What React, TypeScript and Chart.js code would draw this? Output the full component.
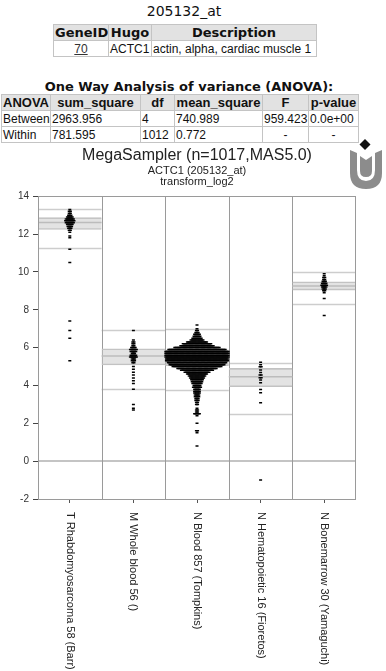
import React, { useEffect, useRef } from "react";
import { Chart, registerables } from "chart.js";

Chart.register(...registerables);

// ---------- header data ----------
const probeId = "205132_at";
const geneId = "70";
const hugo = "ACTC1";
const description = "actin, alpha, cardiac muscle 1";
const anovaTitle = "One Way Analysis of variance (ANOVA):";
const anovaHeader = ["ANOVA", "sum_square", "df", "mean_square", "F", "p-value"];
const anovaBetween = ["Between", "2963.956", "4", "740.989", "959.423", "0.0e+00"];
const anovaWithin = ["Within", "781.595", "1012", "0.772", "-", "-"];

// ---------- chart data ----------
const chartTitle = "MegaSampler (n=1017,MAS5.0)";
const chartSubtitle = ["ACTC1 (205132_at)", "transform_log2"];
const categories = [
  "T Rhabdomyosarcoma 58 (Barr)",
  "M Whole blood 56 ()",
  "N Blood 857 (Tompkins)",
  "N Hematopoietic 16 (Fioretos)",
  "N Bonemarrow 30 (Yamaguchi)",
];
const yTickValues = [-2, 0, 2, 4, 6, 8, 10, 12, 14];

// expression levels (log2) and number of samples found at each level
const rhabdoLevels = [13.3, 13.2, 13.1, 13.0, 12.9, 12.8, 12.7, 12.6, 12.5, 12.4, 12.3, 12.2, 12.1, 11.9, 11.8, 11.2, 10.5, 7.4, 6.9, 6.5, 5.3];
const rhabdoCounts = [1, 2, 2, 3, 5, 7, 8, 7, 5, 4, 3, 2, 1, 1, 1, 1, 1, 1, 1, 1, 1];

const wholeBloodLevels = [6.9, 6.4, 6.3, 6.2, 6.1, 6.0, 5.9, 5.8, 5.7, 5.6, 5.5, 5.4, 5.3, 5.2, 5.0, 4.85, 4.7, 4.55, 4.4, 4.25, 4.1, 3.8, 3.0, 2.8, 2.7];
const wholeBloodCounts = [1, 1, 2, 2, 2, 4, 6, 5, 3, 5, 6, 3, 3, 2, 1, 1, 1, 1, 1, 1, 1, 1, 1, 1, 1];

const bloodLevels = [
  7.2, 7.0, 6.9, 6.8, 6.7, 6.6, 6.5, 6.4, 6.3, 6.2,
  6.1, 6.0, 5.9, 5.8, 5.7, 5.6, 5.5, 5.4, 5.3, 5.2,
  5.1, 5.0, 4.9, 4.8, 4.7, 4.6, 4.5, 4.4, 4.3, 4.2,
  4.1, 4.0, 3.9, 3.8, 3.7, 3.6, 3.5, 3.4, 3.3, 3.2,
  3.1, 3.0, 2.8, 2.7, 2.6, 2.5, 2.4, 2.0, 1.6, 1.5, 0.8,
];
const bloodCounts = [
  1, 1, 2, 3, 5, 6, 8, 11, 17, 24,
  28, 38, 48, 53, 53, 53, 53, 52, 52, 49,
  46, 41, 33, 27, 21, 17, 14, 12, 10, 9,
  8, 6, 7, 5, 5, 5, 4, 4, 3, 3,
  2, 2, 1, 2, 2, 5, 1, 1, 2, 1, 1,
];

const hematoLevels = [5.22, 5.1, 4.99, 4.81, 4.69, 4.55, 4.41, 4.29, 4.14, 3.79, 3.61, 3.09, -1.0];
const hematoCounts = [1, 1, 2, 1, 1, 2, 2, 1, 1, 1, 1, 1, 1];

const boneLevels = [9.9, 9.8, 9.7, 9.6, 9.5, 9.4, 9.3, 9.2, 9.1, 9.0, 8.9, 8.6, 7.7];
const boneCounts = [1, 1, 2, 2, 3, 4, 5, 4, 3, 2, 1, 1, 1];

// per-group reference lines (upper / box top / median / box bottom / lower)
const upperLine = [13.3, 6.91, 6.98, 5.17, 9.97];
const boxTop = [12.87, 5.94, 5.88, 4.9, 9.48];
const medians = [12.61, 5.55, 5.5, 4.46, 9.26];
const boxBottom = [12.24, 5.08, 5.05, 3.93, 9.04];
const lowerLine = [11.27, 3.81, 3.76, 2.47, 8.33];

const groupLevels = [rhabdoLevels, wholeBloodLevels, bloodLevels, hematoLevels, boneLevels];
const groupCounts = [rhabdoCounts, wholeBloodCounts, bloodCounts, hematoCounts, boneCounts];

const SWARM_STEP = 1.2 / 63.6; // horizontal spacing of stacked points, in category units

function swarm(group: number, levels: number[], counts: number[]) {
  const pts: { x: number; y: number }[] = [];
  levels.forEach((v, k) => {
    const n = counts[k];
    for (let i = 0; i < n; i++) {
      pts.push({ x: group + 1 + (i - (n - 1) / 2) * SWARM_STEP, y: v });
    }
  });
  return pts;
}

const FONT_A = "'Liberation Sans', Arial, sans-serif";
const FONT_V = "'DejaVu Sans', Verdana, sans-serif";

const panelPlugin = {
  id: "panels",
  beforeDatasetsDraw(chart: any) {
    const { ctx, chartArea: a, scales } = chart;
    const x = scales.x;
    const y = scales.y;
    ctx.save();
    const hline = (v: number, l: number, r: number, color: string, w: number) => {
      const py = Math.round(y.getPixelForValue(v)) + (w % 2 ? 0.5 : 0);
      ctx.strokeStyle = color;
      ctx.lineWidth = w;
      ctx.beginPath();
      ctx.moveTo(l, py);
      ctx.lineTo(r, py);
      ctx.stroke();
    };
    hline(0, a.left, a.right, "#c4c4c4", 2);
    categories.forEach((_, i) => {
      const l = x.getPixelForValue(i + 0.5);
      const r = x.getPixelForValue(i + 1.5);
      hline(upperLine[i], l, r, "#cdcdcd", 1.5);
      hline(lowerLine[i], l, r, "#cdcdcd", 1.5);
    });
    ctx.strokeStyle = "#9a9a9a";
    ctx.lineWidth = 1;
    for (let i = 1; i < categories.length; i++) {
      const px = Math.round(x.getPixelForValue(i + 0.5)) + 0.5;
      ctx.beginPath();
      ctx.moveTo(px, a.top);
      ctx.lineTo(px, a.bottom);
      ctx.stroke();
    }
    ctx.restore();
  },
  afterDatasetDraw(chart: any, args: any) {
    if (args.meta.type !== "bar") return;
    const { ctx, scales } = chart;
    const x = scales.x;
    const y = scales.y;
    ctx.save();
    ctx.strokeStyle = "#bcbcbc";
    ctx.lineWidth = 1.5;
    categories.forEach((_, i) => {
      const l = x.getPixelForValue(i + 0.5);
      const r = x.getPixelForValue(i + 1.5);
      const py = y.getPixelForValue(medians[i]);
      ctx.beginPath();
      ctx.moveTo(l, py);
      ctx.lineTo(r, py);
      ctx.stroke();
    });
    ctx.restore();
  },
  afterDraw(chart: any) {
    const { ctx, chartArea: a, scales } = chart;
    const x = scales.x;
    ctx.save();
    ctx.strokeStyle = "#9a9a9a";
    ctx.lineWidth = 1;
    ctx.strokeRect(Math.round(a.left) + 0.5, Math.round(a.top) + 0.5, Math.round(a.right - a.left) - 1, Math.round(a.bottom - a.top));
    ctx.fillStyle = "#222";
    ctx.font = `11px ${FONT_A}`;
    ctx.textAlign = "left";
    ctx.textBaseline = "middle";
    categories.forEach((label, i) => {
      const px = x.getPixelForValue(i + 1);
      ctx.save();
      ctx.translate(px, a.bottom + 13);
      ctx.rotate(Math.PI / 2);
      ctx.fillText(label, 0, 0);
      ctx.restore();
    });
    ctx.restore();
  },
};

function MegaChart() {
  const ref = useRef<HTMLCanvasElement | null>(null);
  useEffect(() => {
    if (!ref.current) return;
    const scatterSets = groupLevels.map((lv, g) => ({
      type: "scatter" as const,
      data: swarm(g, lv, groupCounts[g]),
      pointStyle: "line",
      pointRadius: 1.5,
      pointHoverRadius: 1.5,
      pointBorderWidth: 1.5,
      pointBorderColor: "#000",
      pointBackgroundColor: "#000",
      borderColor: "#000",
      showLine: false,
      order: 1,
    }));
    const boxSet = {
      type: "bar" as const,
      data: categories.map((_, i) => ({ x: i + 1, y: [boxBottom[i], boxTop[i]] })),
      backgroundColor: "rgba(200,200,200,0.5)",
      borderColor: "#c2c2c2",
      borderWidth: { top: 1, bottom: 1, left: 0, right: 0 },
      borderSkipped: false,
      categoryPercentage: 1,
      barPercentage: 1,
      order: 5,
    };
    const chart = new Chart(ref.current, {
      type: "scatter",
      data: { datasets: [...scatterSets, boxSet] as any },
      options: {
        animation: false,
        responsive: false,
        devicePixelRatio: 1,
        events: [],
        layout: { padding: { left: 0, right: 30, top: 0, bottom: 0 } },
        plugins: {
          legend: { display: false },
          tooltip: { enabled: false },
          title: {
            display: true,
            text: chartTitle,
            fullSize: false,
            color: "#222",
            font: { family: FONT_A, size: 16, weight: "normal", lineHeight: 1.2 },
            padding: { top: 1, bottom: 0 },
          },
          subtitle: {
            display: true,
            text: chartSubtitle,
            fullSize: false,
            color: "#222",
            font: { family: FONT_A, size: 11, weight: "normal", lineHeight: 1.0 },
            padding: { top: 0, bottom: 9 },
          },
        },
        scales: {
          x: {
            type: "linear",
            min: 0.5,
            max: 5.5,
            offset: false,
            afterBuildTicks: (s: any) => {
              s.ticks = categories.map((_, i) => ({ value: i + 1 }));
            },
            afterFit: (s: any) => {
              s.height = 172;
            },
            ticks: { display: false },
            grid: { display: true, drawOnChartArea: false, drawTicks: true, tickLength: 4, color: "#555", offset: false },
            border: { display: false },
          },
          y: {
            type: "linear",
            min: -2,
            max: 14,
            afterBuildTicks: (s: any) => {
              s.ticks = yTickValues.map((v) => ({ value: v }));
            },
            afterFit: (s: any) => {
              s.width = 38;
            },
            ticks: { color: "#333", padding: 4, font: { family: FONT_A, size: 10 } },
            grid: { display: true, drawOnChartArea: false, drawTicks: true, tickLength: 5, color: "#444" },
            border: { display: false },
          },
        },
      } as any,
      plugins: [panelPlugin],
    });
    return () => chart.destroy();
  }, []);
  return <canvas ref={ref} width={386} height={526} style={{ display: "block" }} />;
}

const cell: React.CSSProperties = {
  border: "1px solid #c4c4c4",
  padding: "0 1px",
  whiteSpace: "nowrap",
  overflow: "hidden",
  lineHeight: "14px",
};
const headCell: React.CSSProperties = { ...cell, background: "#e2e2e2", textAlign: "center", fontWeight: "bold" };

export default function App() {
  const anovaWidths = [49, 90, 34, 88, 46, 50];
  return (
    <div style={{ position: "absolute", left: 0, top: 0, width: 386, height: 671, overflow: "hidden", background: "#fff", color: "#111" }}>
      <div style={{ position: "absolute", left: 0, top: 3, width: 368, textAlign: "center", font: `14px ${FONT_V}`, lineHeight: "16px" }}>
        {probeId}
      </div>
      <table style={{ position: "absolute", left: 53, top: 24, width: 263, borderCollapse: "collapse", tableLayout: "fixed" }}>
        <colgroup>
          <col style={{ width: 55 }} />
          <col style={{ width: 43 }} />
          <col style={{ width: 165 }} />
        </colgroup>
        <tbody>
          <tr style={{ height: 16 }}>
            <th style={{ ...headCell, font: `bold 13px ${FONT_V}` }}>GeneID</th>
            <th style={{ ...headCell, font: `bold 13px ${FONT_V}` }}>Hugo</th>
            <th style={{ ...headCell, font: `bold 13px ${FONT_V}` }}>Description</th>
          </tr>
          <tr style={{ height: 16 }}>
            <td style={{ ...cell, textAlign: "center", font: `12px ${FONT_A}` }}>
              <a style={{ color: "#333", textDecoration: "underline" }}>{geneId}</a>
            </td>
            <td style={{ ...cell, font: `12px ${FONT_A}` }}>{hugo}</td>
            <td style={{ ...cell, font: `12px ${FONT_A}` }}>{description}</td>
          </tr>
        </tbody>
      </table>
      <div style={{ position: "absolute", left: 0, top: 79, width: 378, textAlign: "center", font: `bold 13px ${FONT_V}`, lineHeight: "16px" }}>
        {anovaTitle}
      </div>
      <table style={{ position: "absolute", left: 1, top: 94, width: 357, borderCollapse: "collapse", tableLayout: "fixed" }}>
        <colgroup>
          {anovaWidths.map((w, i) => (
            <col key={i} style={{ width: w }} />
          ))}
        </colgroup>
        <tbody>
          <tr style={{ height: 16 }}>
            {anovaHeader.map((h, i) => (
              <th key={i} style={{ ...headCell, font: `bold 13px ${FONT_A}` }}>{h}</th>
            ))}
          </tr>
          {[anovaBetween, anovaWithin].map((row, r) => (
            <tr key={r} style={{ height: 16 }}>
              {row.map((v, i) => (
                <td key={i} style={{ ...cell, font: `12px ${FONT_A}`, textAlign: v === "-" ? "center" : "left" }}>{v}</td>
              ))}
            </tr>
          ))}
        </tbody>
      </table>
      <svg style={{ position: "absolute", left: 346, top: 135 }} width={40} height={58} viewBox="346 130 40 58">
        <polygon points="365,134 370.5,139.5 365,145 359.5,139.5" fill="#111" />
        <path d="M350 145 L357 148 L357 165 Q357 176 366 176 Q375 176 375 165 L375 148 L382 145 L382 168 Q382 184 366 184 Q350 184 350 168 Z" fill="#8c8c8c" />
        <path d="M360 151 L366 155 L372 151 L372 166 Q372 172 366 172 Q360 172 360 166 Z" fill="#8c8c8c" />
      </svg>
      <div style={{ position: "absolute", left: 0, top: 145, width: 386, height: 526 }}>
        <MegaChart />
      </div>
    </div>
  );
}
